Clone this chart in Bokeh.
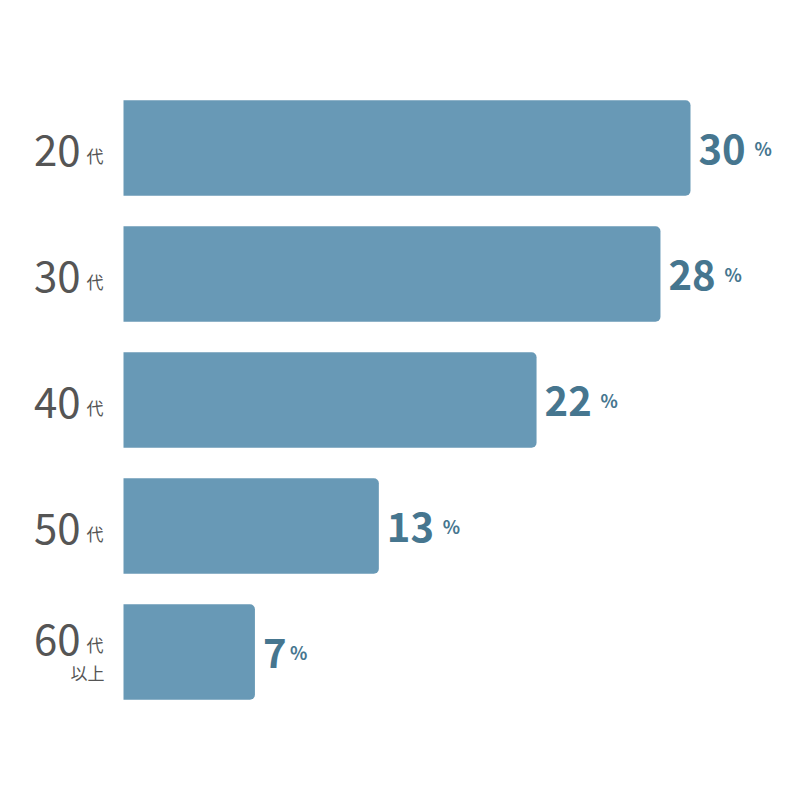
from bokeh.plotting import figure
from bokeh.models import Range1d, ColumnDataSource
from bokeh.core.properties import value
from bokeh.embed import file_html
from bokeh.resources import INLINE

# ---- data ----
age_groups = ["20", "30", "40", "50", "60"]
age_suffix = ["代", "代", "代", "代", "代"]
age_sub = ["", "", "", "", "以上"]
bar_share = [30.2, 28.6, 22.0, 13.6, 7.0]      # bar lengths as drawn
share_labels = ["30", "28", "22", "13", "7"]  # printed percentages

# ---- style ----
FONT = "Noto Sans CJK JP"
BAR_COLOR = "#6899b6"
VALUE_COLOR = "#46768f"
LABEL_COLOR = "#555555"

W, H = 784, 784
PX_PER_UNIT = 18.775
ROW_PX = 126.0
LEFT_PX = 123.0
TOP_CENTER_PX = 147.5

x0 = -LEFT_PX / PX_PER_UNIT
y_top = -TOP_CENTER_PX / ROW_PX

ys = list(range(len(age_groups)))
digit_w = 29
pct_dx = [6 + len(s) * digit_w for s in share_labels]
num_dy = [-13 if s else 2 for s in age_sub]
suf_dy = [d + 5 for d in num_dy]

src = ColumnDataSource(dict(
    y=ys, share=bar_share, lab=share_labels, grp=age_groups,
    suf=age_suffix, sub=age_sub, pct=["%"] * len(ys), pct_dx=pct_dx,
    num_dy=num_dy, suf_dy=suf_dy, zero=[0] * len(ys),
))

p = figure(width=W, height=H, output_backend="svg", toolbar_location=None,
           x_range=Range1d(x0, x0 + W / PX_PER_UNIT),
           y_range=Range1d(y_top + H / ROW_PX, y_top),
           min_border=0, outline_line_color=None)
p.axis.visible = False
p.grid.visible = False
p.background_fill_color = "white"
p.border_fill_color = "white"

p.hbar(y="y", left=0, right="share", height=95.5 / ROW_PX, source=src,
       fill_color=BAR_COLOR, line_color=None, border_radius=(0, 5, 5, 0))

# left labels
p.text(x="zero", y="y", text="grp", source=src, x_offset=-43, y_offset="num_dy",
       text_align="right", text_baseline="alphabetic", text_font=value(FONT),
       text_font_size="42px", text_color=LABEL_COLOR)
p.text(x="zero", y="y", text="suf", source=src, x_offset=-37, y_offset="suf_dy",
       text_align="left", text_baseline="alphabetic", text_font=value(FONT),
       text_font_size="17px", text_color=LABEL_COLOR)
p.text(x="zero", y="y", text="sub", source=src, x_offset=-19, y_offset=20,
       text_align="right", text_baseline="alphabetic", text_font=value(FONT),
       text_font_size="17px", text_color=LABEL_COLOR)

# value labels
p.text(x="share", y="y", text="lab", source=src, x_offset=8, y_offset=1,
       text_align="left", text_baseline="alphabetic", text_font=value(FONT),
       text_font_size="40px", text_font_style="bold", text_color=VALUE_COLOR)
p.text(x="share", y="y", text="pct", source=src, x_offset="pct_dx", y_offset=0,
       text_align="left", text_baseline="alphabetic", text_font=value(FONT),
       text_font_size="18px", text_font_style="bold", text_color=VALUE_COLOR)

open("out.html", "w").write(file_html(p, INLINE))
